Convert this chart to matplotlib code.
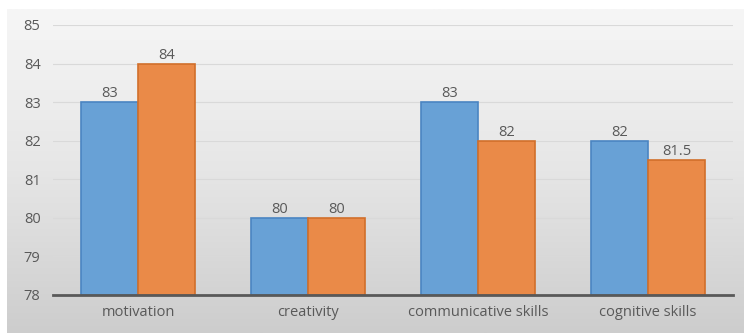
import matplotlib
matplotlib.use("Agg")
import matplotlib.pyplot as plt
import numpy as np
from matplotlib.colors import LinearSegmentedColormap

categories = ["motivation", "creativity", "communicative skills", "cognitive skills"]
series_a = [83, 80, 83, 82]
series_b = [84, 80, 82, 81.5]
label_a = ["83", "80", "83", "82"]
label_b = ["84", "80", "82", "81.5"]
yticks = [78, 79, 80, 81, 82, 83, 84, 85]

plt.rcParams['font.family'] = ['Open Sans', 'DejaVu Sans']

fig = plt.figure(figsize=(7.44, 3.33), dpi=100)
fig.patch.set_facecolor("white")

# gradient background panel
bg = fig.add_axes([7/744, 0, 1 - 7/744, (333 - 9)/333])
grad = np.linspace(0, 1, 256).reshape(-1, 1)
cmap = LinearSegmentedColormap.from_list("g", ["#f6f6f6", "#e6e6e6", "#cdcdcd"])
bg.imshow(grad, aspect="auto", cmap=cmap, extent=[0, 1, 0, 1], origin="upper")
bg.set_axis_off()

ax = fig.add_axes([53/744, 1 - 295/333, (733 - 53)/744, (295 - 25)/333])
ax.patch.set_alpha(0)

x = np.arange(len(categories))
w = 57 / 170
ax.bar(x - w/2, [v - 78 for v in series_a], w, bottom=78, color="#68a1d6",
       edgecolor="#4a85c2", linewidth=1.2, zorder=3)
ax.bar(x + w/2, [v - 78 for v in series_b], w, bottom=78, color="#ea8a48",
       edgecolor="#d16f2b", linewidth=1.2, zorder=3)

fs = 10.5
for xi, v, t in zip(x - w/2, series_a, label_a):
    ax.text(xi, v + 0.02, t, ha="center", va="bottom", fontsize=fs, color="#595959")
for xi, v, t in zip(x + w/2, series_b, label_b):
    ax.text(xi, v + 0.02, t, ha="center", va="bottom", fontsize=fs, color="#595959")

ax.set_xlim(-0.5, 3.5)
ax.set_ylim(78, 85)
ax.set_yticks(yticks)
ax.set_yticklabels([str(t) for t in yticks])
ax.set_xticks(x)
ax.set_xticklabels(categories)
ax.tick_params(axis="both", length=0, labelsize=fs, labelcolor="#595959")
ax.tick_params(axis="y", pad=9)
ax.tick_params(axis="x", pad=7)
ax.grid(axis="y", color="#d9d9d9", linewidth=0.8, zorder=0)
for s in ["top", "right", "left"]:
    ax.spines[s].set_visible(False)
ax.spines["bottom"].set_color("#595959")
ax.spines["bottom"].set_linewidth(2)
ax.spines["bottom"].set_zorder(4)

fig.savefig("out.png", dpi=100)
